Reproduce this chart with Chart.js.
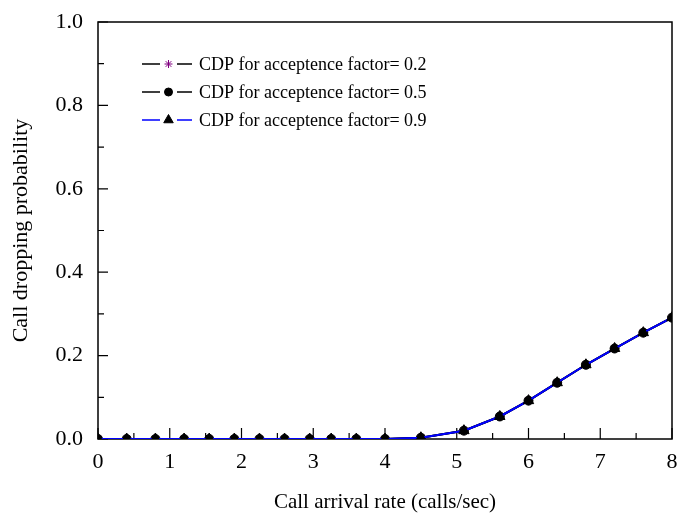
<!DOCTYPE html>
<html lang="en">
<head>
  <meta charset="UTF-8">
  <title>Call dropping probability</title>
  <style>
    body {
      margin: 0;
      background: #fff;
    }
    #wrap {
      width: 679px;
      height: 517px;
    }
  </style>
  <script src="https://cdn.jsdelivr.net/npm/chart.js"></script>
</head>
<body>
  <div id="wrap">
    <canvas id="cdpChart" width="679" height="517"></canvas>
  </div>

  <script>
    // arrival rates (calls/sec)
    const arrivalRate = [0, 0.4, 0.8, 1.2, 1.55, 1.9, 2.25, 2.6, 2.95, 3.25, 3.6, 4.0,
                         4.5, 5.1, 5.6, 6.0, 6.4, 6.8, 7.2, 7.6, 8.0];
    // call dropping probability for each acceptance factor
    const cdp02 = [0, 0, 0, 0, 0, 0, 0, 0, 0, 0, 0, 0,
                   0.003, 0.02, 0.054, 0.092, 0.135, 0.178, 0.217, 0.255, 0.291];
    const cdp05 = [0, 0, 0, 0, 0, 0, 0, 0, 0, 0, 0, 0,
                   0.003, 0.02, 0.054, 0.092, 0.135, 0.178, 0.217, 0.255, 0.291];
    const cdp09 = [0, 0, 0, 0, 0, 0, 0, 0, 0, 0, 0, 0,
                   0.003, 0.02, 0.054, 0.092, 0.135, 0.178, 0.217, 0.255, 0.291];
    const seriesLabels = ['CDP for acceptence factor= 0.2',
                          'CDP for acceptence factor= 0.5',
                          'CDP for acceptence factor= 0.9'];
    const xTicks = [0, 1, 2, 3, 4, 5, 6, 7, 8];
    const yTicks = [0, 0.2, 0.4, 0.6, 0.8, 1.0];

    const FONT = 'Liberation Serif';

    function toPoints(ys) {
      return arrivalRate.map((x, i) => ({ x: x, y: ys[i] }));
    }

    const styles = [
      { line: '#000000', point: 'star', pointColor: '#800080', fill: '#800080', radius: 4.5 },
      { line: '#000000', point: 'circle', pointColor: '#000000', fill: '#000000', radius: 4.5 },
      { line: '#0000ff', point: 'triangle', pointColor: '#000000', fill: '#000000', radius: 6 }
    ];

    const datasets = [cdp02, cdp05, cdp09].map((ys, i) => ({
      label: seriesLabels[i],
      data: toPoints(ys),
      borderColor: styles[i].line,
      borderWidth: 2,
      pointStyle: styles[i].point,
      pointRadius: styles[i].radius,
      pointBorderColor: styles[i].pointColor,
      pointBackgroundColor: styles[i].fill,
      pointBorderWidth: 1,
      tension: 0,
      order: 2 - i   // 0.9 on top
    }));

    // frame + inward ticks
    const framePlugin = {
      id: 'frame',
      beforeDatasetsDraw(chart) {
        const { ctx, chartArea: a, scales } = chart;
        ctx.save();
        ctx.strokeStyle = '#000';
        ctx.lineWidth = 1.5;
        ctx.strokeRect(a.left, a.top, a.right - a.left, a.bottom - a.top);
        ctx.lineWidth = 1.2;
        ctx.beginPath();
        for (let v = 0; v <= 8.001; v += 0.5) {
          const px = scales.x.getPixelForValue(v);
          const len = Math.abs(v - Math.round(v)) < 0.01 ? 11 : 6;
          ctx.moveTo(px, a.bottom);
          ctx.lineTo(px, a.bottom - len);
        }
        for (let v = 0; v <= 1.001; v += 0.1) {
          const py = scales.y.getPixelForValue(v);
          const major = Math.round(v * 10) % 2 === 0;
          ctx.moveTo(a.left, py);
          ctx.lineTo(a.left + (major ? 10 : 6), py);
        }
        ctx.stroke();
        ctx.restore();
      }
    };

    // legend with line-marker-line samples
    const legendPlugin = {
      id: 'sampleLegend',
      afterDraw(chart) {
        const ctx = chart.ctx;
        const rows = [64, 92, 120];
        ctx.save();
        rows.forEach((y, i) => {
          const s = styles[i];
          ctx.strokeStyle = s.line;
          ctx.lineWidth = 1.5;
          ctx.beginPath();
          ctx.moveTo(142, y); ctx.lineTo(160, y);
          ctx.moveTo(177, y); ctx.lineTo(192, y);
          ctx.stroke();
          ctx.strokeStyle = s.pointColor;
          ctx.fillStyle = s.fill;
          ctx.lineWidth = 1;
          Chart.helpers.drawPoint(ctx, {
            pointStyle: s.point, radius: s.radius - 0.5, rotation: 0, borderWidth: 1
          }, 168.5, y);
          ctx.fillStyle = '#000';
          ctx.font = '18px "' + FONT + '"';
          ctx.textAlign = 'left';
          ctx.textBaseline = 'middle';
          ctx.fillText(seriesLabels[i], 199, y + 1);
        });
        ctx.restore();
      }
    };

    new Chart(document.getElementById('cdpChart').getContext('2d'), {
      type: 'line',
      data: { datasets: datasets },
      options: {
        responsive: false,
        animation: false,
        layout: { padding: { top: 22, right: 4, left: 0, bottom: 0 } },
        plugins: {
          legend: { display: false },
          tooltip: { enabled: false }
        },
        scales: {
          x: {
            type: 'linear',
            min: 0,
            max: 8,
            afterBuildTicks(scale) { scale.ticks = xTicks.map(v => ({ value: v })); },
            afterFit(scale) {
              scale.height = 78;
              scale.paddingLeft = 0;
              scale.paddingRight = 0;
            },
            grid: { display: false, drawTicks: false },
            border: { display: false },
            ticks: {
              color: '#000',
              font: { family: FONT, size: 22 },
              padding: 10,
              maxRotation: 0
            },
            title: {
              display: true,
              text: 'Call arrival rate (calls/sec)',
              color: '#000',
              font: { family: FONT, size: 21 },
              padding: { top: 0, bottom: 2 }
            }
          },
          y: {
            type: 'linear',
            min: 0,
            max: 1,
            afterBuildTicks(scale) { scale.ticks = yTicks.map(v => ({ value: v })); },
            afterFit(scale) {
              scale.width = 98;
              scale.paddingTop = 0;
              scale.paddingBottom = 0;
            },
            grid: { display: false, drawTicks: false },
            border: { display: false },
            ticks: {
              color: '#000',
              font: { family: FONT, size: 22 },
              padding: 15,
              callback: v => v.toFixed(1)
            },
            title: {
              display: true,
              text: 'Call dropping probability',
              color: '#000',
              font: { family: FONT, size: 22 },
              padding: { top: 8, bottom: 0 }
            }
          }
        }
      },
      plugins: [framePlugin, legendPlugin]
    });
  </script>
</body>
</html>
